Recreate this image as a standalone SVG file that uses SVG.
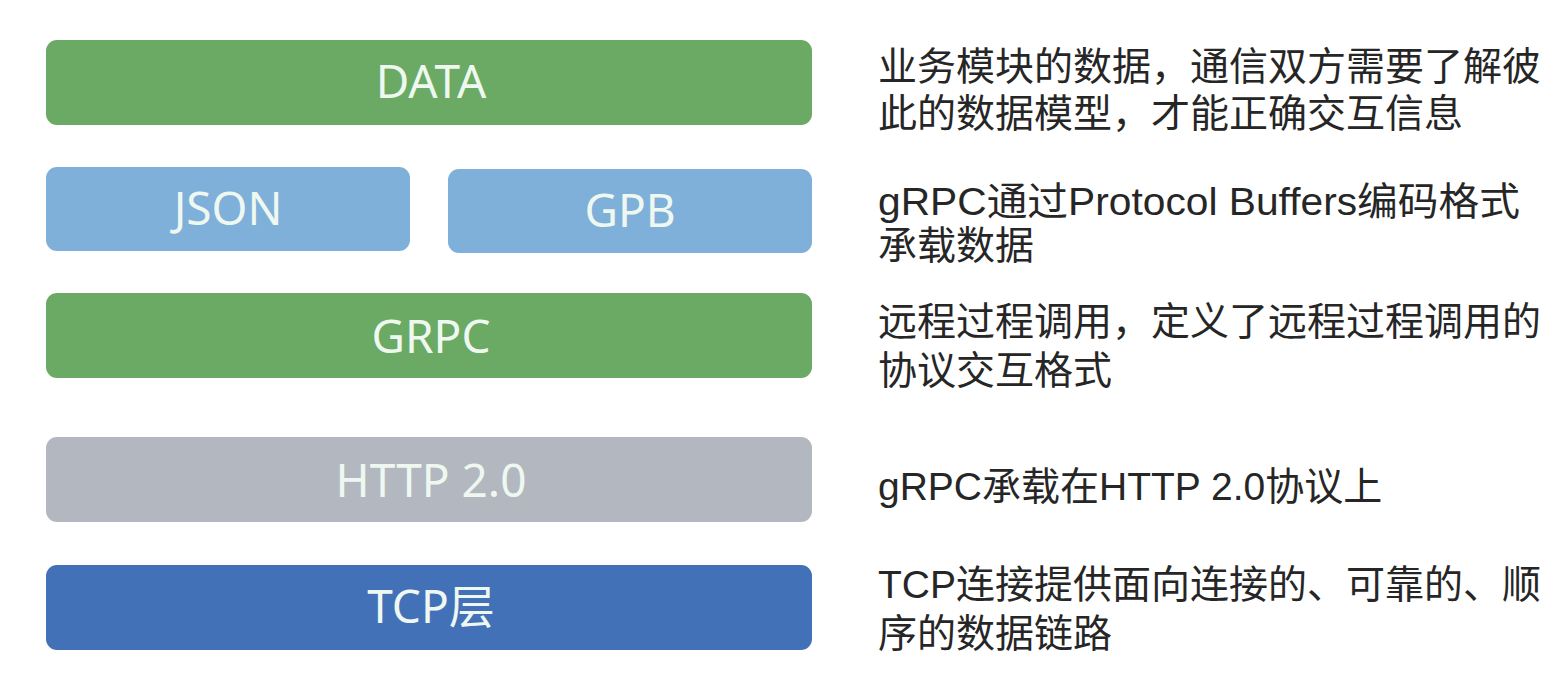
<svg xmlns="http://www.w3.org/2000/svg" width="1550" height="688" viewBox="0 0 1550 688">
<style>
.box{stroke:none}
.lbl{font-family:"Noto Sans","Noto Sans CJK SC",sans-serif;font-size:46px;text-anchor:middle;fill:#eef8f0}
.desc{font-family:"Liberation Sans","Noto Sans CJK SC",sans-serif;font-size:39px;fill:#262626}
</style>
<rect width="1550" height="688" fill="#ffffff"/>
<g id="data"><rect class="box" x="46" y="40" width="766" height="85" rx="11" fill="#6aaa64"/><text class="lbl" x="431" y="98">DATA</text></g>
<g id="json"><rect class="box" x="46" y="167" width="364" height="84" rx="11" fill="#7eb0d9"/><text class="lbl" x="228" y="225">JSON</text></g>
<g id="gpb"><rect class="box" x="448" y="169" width="364" height="84" rx="11" fill="#7eb0d9"/><text class="lbl" x="630" y="227">GPB</text></g>
<g id="grpc"><rect class="box" x="46" y="293" width="766" height="85" rx="11" fill="#6aaa64"/><text class="lbl" x="431" y="353">GRPC</text></g>
<g id="http"><rect class="box" x="46" y="437" width="766" height="85" rx="11" fill="#b3b7c0"/><text class="lbl" x="431" y="497">HTTP 2.0</text></g>
<g id="tcp"><rect class="box" x="46" y="565" width="766" height="85" rx="11" fill="#4371b8"/><text class="lbl" x="431" y="623">TCP层</text></g>
<g id="descriptions">
<text class="desc" x="878" y="80">业务模块的数据，通信双方需要了解彼</text>
<text class="desc" x="878" y="127">此的数据模型，才能正确交互信息</text>
<text class="desc" x="878" y="215" textLength="642" lengthAdjust="spacingAndGlyphs">gRPC通过Protocol Buffers编码格式</text>
<text class="desc" x="878" y="259">承载数据</text>
<text class="desc" x="878" y="335">远程过程调用，定义了远程过程调用的</text>
<text class="desc" x="878" y="384">协议交互格式</text>
<text class="desc" x="878" y="500">gRPC承载在HTTP 2.0协议上</text>
<text class="desc" x="878" y="598">TCP连接提供面向连接的、可靠的、顺</text>
<text class="desc" x="878" y="647">序的数据链路</text>
</g>
<g id="connectors"></g>
</svg>
